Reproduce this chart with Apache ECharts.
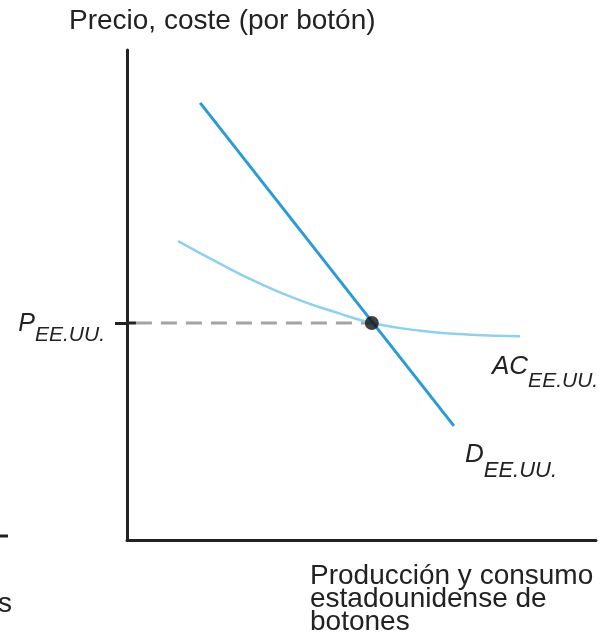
<!DOCTYPE html>
<html>
<head>
<meta charset="utf-8">
<script src="https://cdn.jsdelivr.net/npm/echarts@6/dist/echarts.min.js"></script>
<style>html,body{margin:0;padding:0;background:#fff;}#c{width:602px;height:644px;}</style>
</head>
<body>
<div id="c"></div>
<script>
// Data (arbitrary units, x: 0-100, y: 0-100)
const priceP = 44.3;
const qEq = 52.2;
const demandX = [15.6, 69.7];
const demandY = [89.2, 23.3];
const acX = [10.9, 19.8, 28.4, 36.9, 45.4, 52.2, 62.5, 73.1, 83.8];
const acY = [61.0, 56.4, 52.3, 48.9, 46.2, 44.3, 42.7, 41.9, 41.6];

const chart = echarts.init(document.getElementById('c'), null, {renderer: 'canvas'});
const F = '"Liberation Sans", Arial, sans-serif';
const dark = '#222';

const option = {
  animation: false,
  backgroundColor: '#fff',
  grid: {left: 127, right: 6, top: 50, bottom: 104},
  xAxis: {
    type: 'value', min: 0, max: 100,
    axisLine: {show: true, lineStyle: {color: dark, width: 3}},
    axisTick: {show: false}, axisLabel: {show: false}, splitLine: {show: false}
  },
  yAxis: {
    type: 'value', min: 0, max: 100,
    axisLine: {show: true, lineStyle: {color: dark, width: 3}},
    axisTick: {show: true, customValues: [priceP], length: 12, lineStyle: {color: dark, width: 3}},
    axisLabel: {
      show: true, customValues: [priceP], margin: 22, fontSize: 10, lineHeight: 12,
      formatter: () => '{e|}\n{m|P}{s|EE.UU.}',
      rich: {
        e: {fontSize: 10, lineHeight: 12},
        m: {fontFamily: F, fontStyle: 'italic', fontSize: 25, color: dark, lineHeight: 34, verticalAlign: 'top'},
        s: {fontFamily: F, fontStyle: 'italic', fontSize: 21, color: dark, lineHeight: 34, verticalAlign: 'bottom'}
      }
    },
    splitLine: {show: false}
  },
  series: [
    {
      type: 'line', name: 'tick-in', data: [[0, priceP], [1.9, priceP]],
      symbol: 'none', lineStyle: {color: dark, width: 3}, z: 3
    },
    {
      type: 'line', name: 'dash', data: [[1.9, priceP], [qEq, priceP]],
      symbol: 'none', lineStyle: {color: '#a3a3a3', width: 3, type: [16, 9]}, z: 2
    },
    {
      type: 'line', name: 'AC', smooth: true,
      data: acX.map((x, i) => [x, acY[i]]),
      symbol: 'none', lineStyle: {color: '#8fd0ee', width: 2.5}, z: 3
    },
    {
      type: 'line', name: 'D',
      data: demandX.map((x, i) => [x, demandY[i]]),
      symbol: 'none', lineStyle: {color: '#2b9bd5', width: 3}, z: 4
    },
    {
      type: 'scatter', data: [[qEq, priceP]], symbolSize: 14,
      itemStyle: {color: '#111'}, z: 5
    }
  ],
  graphic: [
    {type: 'text', left: 69, top: 7, style: {text: 'Precio, coste (por botón)', font: '28px ' + F, fill: dark}},
    {type: 'text', left: 310, top: 562, style: {text: 'Producción y consumo\nestadounidense de\nbotones', font: '28px ' + F, fill: dark, lineHeight: 23}},
    {type: 'text', left: 492, top: 354, style: {
      text: '{m|AC}{s|EE.UU.}',
      rich: {
        m: {fontFamily: F, fontStyle: 'italic', fontSize: 26, fill: dark, lineHeight: 38, verticalAlign: 'top'},
        s: {fontFamily: F, fontStyle: 'italic', fontSize: 21, fill: dark, lineHeight: 38, verticalAlign: 'bottom'}
      }}},
    {type: 'text', left: 465, top: 442, style: {
      text: '{m|D}{s|EE.UU.}',
      rich: {
        m: {fontFamily: F, fontStyle: 'italic', fontSize: 26, fill: dark, lineHeight: 40, verticalAlign: 'top'},
        s: {fontFamily: F, fontStyle: 'italic', fontSize: 22, fill: dark, lineHeight: 40, verticalAlign: 'bottom'}
      }}},
    {type: 'line', shape: {x1: 0, y1: 536, x2: 8, y2: 536}, style: {stroke: dark, lineWidth: 3}},
    {type: 'text', left: -2, top: 590, style: {text: 's', font: '28px ' + F, fill: dark}}
  ]
};
chart.setOption(option);
</script>
</body>
</html>
